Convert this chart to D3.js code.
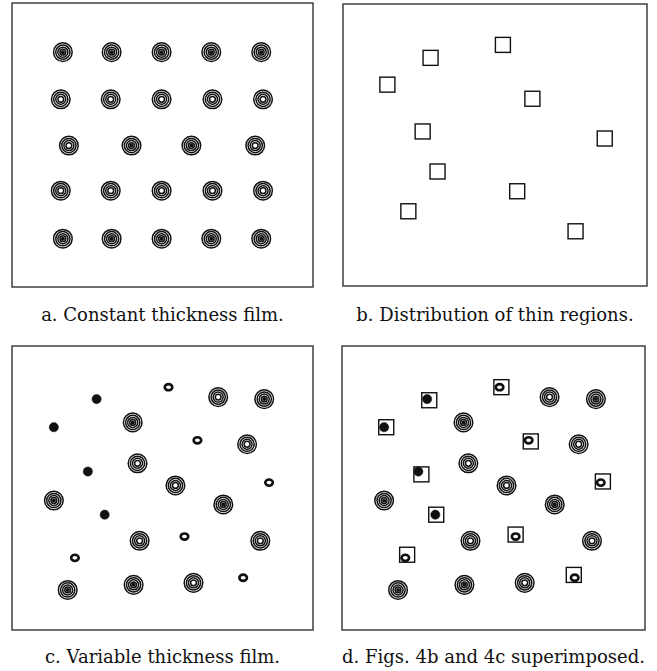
<!DOCTYPE html>
<html>
<head>
<meta charset="utf-8">
<script src="https://cdn.jsdelivr.net/npm/d3@7/dist/d3.min.js"></script>
<style>
  body { margin: 0; background: #fff; }
</style>
</head>
<body>
<div id="fig"></div>
<script>
// 1: DATA (positions in percent of the panel, x from left, y from top)
// fig a: regular array of contour "bumps", core = dark centre or open hole
const gridRings = [
  { x: 16.9, y: 17.3, core: "dark" }, { x: 33.1, y: 17.3, core: "dark" }, { x: 49.7, y: 17.3, core: "dark" },
  { x: 66.2, y: 17.3, core: "dark" }, { x: 82.8, y: 17.3, core: "dark" },
  { x: 16.2, y: 33.9, core: "open" }, { x: 32.8, y: 33.9, core: "open" }, { x: 49.7, y: 33.9, core: "open" },
  { x: 66.6, y: 33.9, core: "open" }, { x: 83.4, y: 33.9, core: "open" },
  { x: 18.9, y: 50.2, core: "open" }, { x: 39.7, y: 50.2, core: "dark" }, { x: 59.6, y: 50.2, core: "dark" },
  { x: 80.8, y: 50.2, core: "open" },
  { x: 16.2, y: 66.1, core: "open" }, { x: 32.8, y: 66.1, core: "open" }, { x: 49.7, y: 66.1, core: "open" },
  { x: 66.6, y: 66.1, core: "open" }, { x: 83.4, y: 66.1, core: "open" },
  { x: 16.9, y: 83.0, core: "dark" }, { x: 33.1, y: 83.0, core: "dark" }, { x: 49.7, y: 83.0, core: "dark" },
  { x: 66.2, y: 83.0, core: "dark" }, { x: 82.8, y: 83.0, core: "dark" }
];

// fig b: thin regions (squares)
const thinRegions = [
  { x: 52.6, y: 14.5 }, { x: 28.8, y: 19.1 }, { x: 14.6, y: 28.6 }, { x: 62.3, y: 33.6 },
  { x: 26.2, y: 45.2 }, { x: 86.1, y: 47.7 }, { x: 31.1, y: 59.4 }, { x: 57.3, y: 66.4 },
  { x: 21.5, y: 73.5 }, { x: 76.5, y: 80.6 }
];

// fig c: small spots that grew in the thin regions
const thinSpots = [
  { x: 52.0, y: 14.5, kind: "open" }, { x: 28.1, y: 18.7, kind: "filled" },
  { x: 13.9, y: 28.6, kind: "filled" }, { x: 61.6, y: 33.2, kind: "open" },
  { x: 25.2, y: 44.2, kind: "filled" }, { x: 85.4, y: 48.1, kind: "open" },
  { x: 30.8, y: 59.4, kind: "filled" }, { x: 57.3, y: 67.1, kind: "open" },
  { x: 20.9, y: 74.6, kind: "open" }, { x: 76.8, y: 81.6, kind: "open" }
];

// fig c: full contour bumps in the thick film
const thickRings = [
  { x: 68.5, y: 18.0, core: "open" }, { x: 83.8, y: 18.7, core: "dark" },
  { x: 40.1, y: 26.9, core: "dark" }, { x: 78.1, y: 34.6, core: "open" },
  { x: 41.7, y: 41.3, core: "open" }, { x: 54.3, y: 49.1, core: "open" },
  { x: 13.9, y: 54.4, core: "dark" }, { x: 70.2, y: 55.8, core: "dark" },
  { x: 42.4, y: 68.6, core: "open" }, { x: 82.5, y: 68.6, core: "open" },
  { x: 18.5, y: 85.9, core: "dark" }, { x: 40.4, y: 84.1, core: "dark" },
  { x: 60.3, y: 83.4, core: "open" }
];

const captions = [
  "a. Constant thickness film.",
  "b. Distribution of thin regions.",
  "c. Variable thickness film.",
  "d. Figs. 4b and 4c superimposed."
];

// 2: LAYOUT
const W = 657, H = 671;
const panels = [
  { left: 12,  top: 3,   w: 301, h: 284, capY: 321, layers: ["grid"] },
  { left: 343, top: 4,   w: 304, h: 282, capY: 321, layers: ["squares"] },
  { left: 12,  top: 346, w: 301, h: 284, capY: 663, layers: ["thick", "spots"] },
  { left: 342, top: 346, w: 303, h: 284, capY: 663, layers: ["thick", "spots", "squares"] }
];

const ink = "#111";
const ringRadii = [2.9, 5, 7.1, 9.3];

const svg = d3.select("#fig")
  .append("svg")
  .attr("width", W)
  .attr("height", H)
  .style("font-family", "'DejaVu Serif', 'Liberation Serif', serif");

// draws a set of concentric contour rings
function drawRings(g, data, x, y) {
  const bump = g.selectAll(".bump")
    .data(data)
    .enter()
    .append("g")
    .attr("class", "bump")
    .attr("transform", d => `translate(${x(d.x)},${y(d.y)})`);

  bump.selectAll("circle")
    .data(ringRadii)
    .enter()
    .append("circle")
    .attr("r", r => r)
    .attr("fill", "none")
    .attr("stroke", ink)
    .attr("stroke-width", 1.5);

  bump.filter(d => d.core === "dark")
    .append("circle")
    .attr("r", 2)
    .attr("fill", ink);
}

panels.forEach((p, i) => {
  const x = d3.scaleLinear().domain([0, 100]).range([0, p.w]);
  const y = d3.scaleLinear().domain([0, 100]).range([0, p.h]);

  const g = svg.append("g")
    .attr("transform", `translate(${p.left},${p.top})`);

  // frame
  g.append("rect")
    .attr("width", p.w)
    .attr("height", p.h)
    .attr("fill", "none")
    .attr("stroke", "#333")
    .attr("stroke-width", 1.4);

  if (p.layers.includes("grid")) drawRings(g, gridRings, x, y);
  if (p.layers.includes("thick")) drawRings(g, thickRings, x, y);

  if (p.layers.includes("spots")) {
    g.selectAll(".spot")
      .data(thinSpots)
      .enter()
      .append("ellipse")
      .attr("class", "spot")
      .attr("cx", d => x(d.x))
      .attr("cy", d => y(d.y))
      .attr("rx", d => d.kind === "filled" ? 4.6 : 3.8)
      .attr("ry", d => d.kind === "filled" ? 4.6 : 3.1)
      .attr("fill", d => d.kind === "filled" ? ink : "#fff")
      .attr("stroke", ink)
      .attr("stroke-width", d => d.kind === "filled" ? 0.5 : 2.6);
  }

  if (p.layers.includes("squares")) {
    const s = 15;
    g.selectAll(".sq")
      .data(thinRegions)
      .enter()
      .append("rect")
      .attr("class", "sq")
      .attr("x", d => x(d.x) - s / 2)
      .attr("y", d => y(d.y) - s / 2)
      .attr("width", s)
      .attr("height", s)
      .attr("fill", "none")
      .attr("stroke", ink)
      .attr("stroke-width", 1.4);
  }

  svg.append("text")
    .attr("x", p.left + p.w / 2)
    .attr("y", p.capY)
    .attr("text-anchor", "middle")
    .style("font-size", "18px")
    .style("fill", "#111")
    .text(captions[i]);
});
</script>
</body>
</html>
